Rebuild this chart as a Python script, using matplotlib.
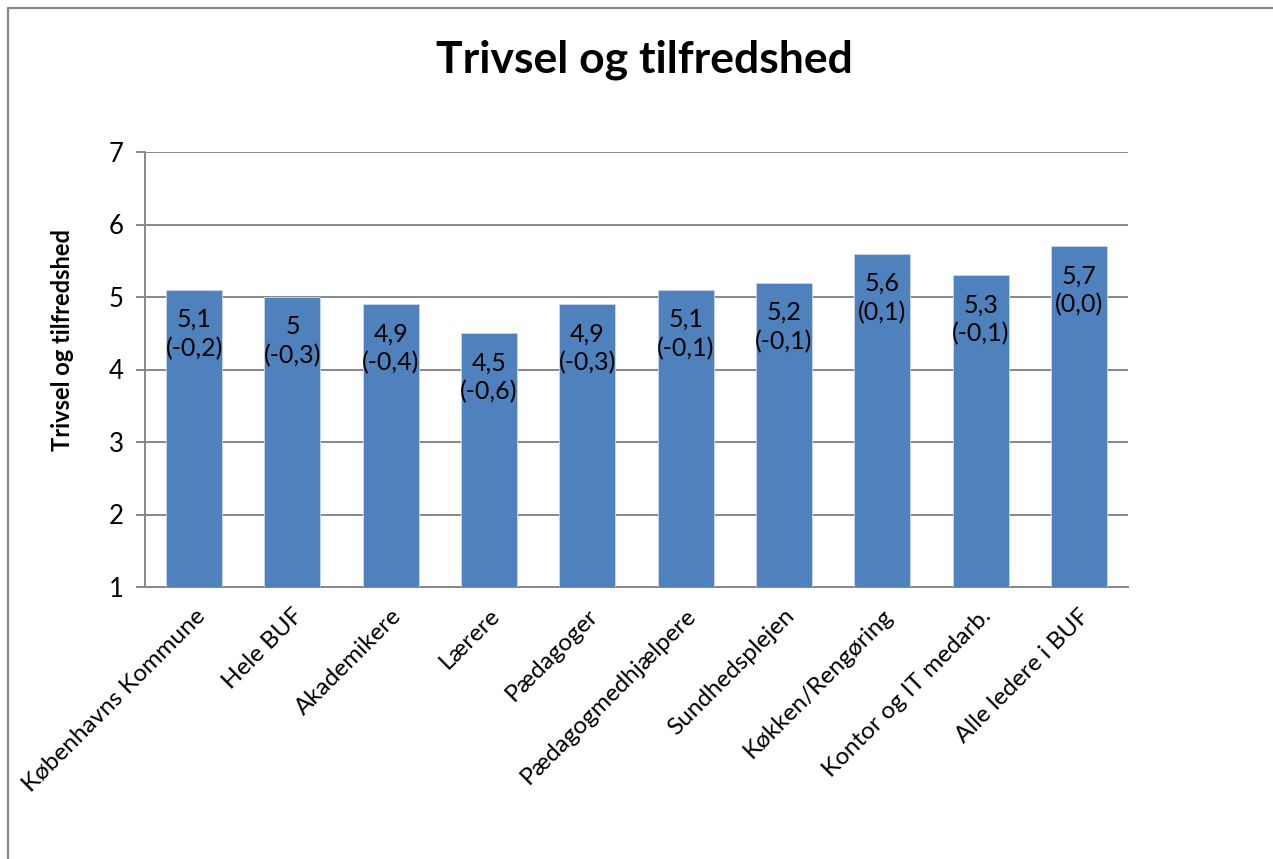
import matplotlib
matplotlib.use('Agg')
import matplotlib.pyplot as plt
from matplotlib.lines import Line2D

plt.rcParams['font.family'] = ['Lato', 'DejaVu Sans']

# Data
categories = ['Københavns Kommune', 'Hele BUF', 'Akademikere', 'Lærere', 'Pædagoger',
              'Pædagogmedhjælpere', 'Sundhedsplejen', 'Køkken/Rengøring',
              'Kontor og IT medarb.', 'Alle ledere i BUF']
values = [5.1, 5.0, 4.9, 4.5, 4.9, 5.1, 5.2, 5.6, 5.3, 5.7]
changes = [-0.2, -0.3, -0.4, -0.6, -0.3, -0.1, -0.1, 0.1, -0.1, 0.0]
y_ticks = [1, 2, 3, 4, 5, 6, 7]

BAR_COLOR = '#4F81BD'
GRID_COLOR = '#878787'
W, H = 1273, 859

fig = plt.figure(figsize=(W / 100, H / 100), dpi=100)
fig.patch.set_facecolor('white')

# outer chart frame (only top and left edges visible)
fig.add_artist(Line2D([8 / W, 8 / W, 1.0], [0.0, 1 - 8 / H, 1 - 8 / H],
                      transform=fig.transFigure, color=GRID_COLOR, lw=1.6))

ax = fig.add_axes([145 / W, 1 - 587 / H, (1128 - 145) / W, (587 - 152) / H])
x = list(range(len(categories)))
ax.bar(x, [v - 1 for v in values], bottom=1, width=0.57, color=BAR_COLOR,
       edgecolor='#c9d7ea', linewidth=0.6, zorder=3)

ax.set_xlim(-0.5, len(categories) - 0.5)
ax.set_ylim(1, 7)
ax.set_yticks(y_ticks)
ax.yaxis.grid(True, color=GRID_COLOR, lw=1.4, zorder=0)
ax.set_axisbelow(True)

for s in ['top', 'right']:
    ax.spines[s].set_visible(False)
ax.spines['left'].set_color(GRID_COLOR)
ax.spines['left'].set_linewidth(1.4)
ax.spines['bottom'].set_color(GRID_COLOR)
ax.spines['bottom'].set_linewidth(1.4)

ax.tick_params(axis='y', length=6.5, width=1.4, color=GRID_COLOR, labelsize=18.5, pad=9)
ax.tick_params(axis='x', length=0, labelsize=17.5, pad=13)
ax.set_xticks(x)
ax.set_xticklabels(categories, rotation=45, ha='right', rotation_mode='anchor')

# value labels inside top of bars
for xi, v, d in zip(x, values, changes):
    txt = f"{v:g}".replace('.', ',') + '\n' + f"({d:.1f})".replace('.', ',')
    ax.annotate(txt, xy=(xi, v), xytext=(0, -13), textcoords='offset points',
                ha='center', va='top', fontsize=18, linespacing=1.32, zorder=4)

fig.text(62 / W, 1 - 340 / H, 'Trivsel og tilfredshed', rotation=90, ha='center',
         va='center', fontsize=17, fontweight='bold')
fig.text(644 / W, 1 - 60 / H, 'Trivsel og tilfredshed', ha='center', va='center',
         fontsize=32, fontweight='bold')

plt.savefig('out.png', dpi=100, facecolor='white')
plt.close()
